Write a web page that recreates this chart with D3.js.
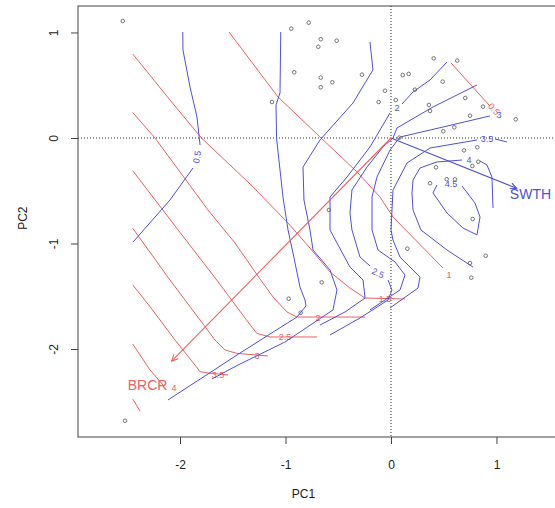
<!DOCTYPE html>
<meta charset="utf-8">
<style>
  body { margin: 0; background: #fff; }
  text { font-family: "Liberation Sans", Arial, sans-serif; }
</style>
<body>
<svg width="555" height="508" id="chart"></svg>
<script src="https://d3js.org/d3.v7.min.js"></script>
<script>
// site scores (PC1, PC2)
var sites = [
  [-2.543, 1.109], [-0.945, 1.036], [-0.780, 1.093], [-0.917, 0.623], [-1.128, 0.341],
  [-0.666, 0.936], [-0.689, 0.865], [-0.515, 0.922], [-0.666, 0.572], [-0.666, 0.481],
  [-0.556, 0.528], [-0.275, 0.600], [-0.057, 0.448], [-0.117, 0.341], [0.045, 0.360],
  [0.111, 0.597], [0.168, 0.607], [0.227, 0.458], [0.405, 0.755], [0.628, 0.733],
  [0.490, 0.534], [0.360, 0.313], [0.370, 0.256], [0.704, 0.379], [0.872, 0.297],
  [0.749, 0.211], [1.182, 0.177], [0.496, 0.064], [0.600, 0.101], [0.079, 0.003],
  [0.692, -0.117], [0.818, -0.088], [0.827, -0.225], [0.771, -0.265], [0.427, -0.278],
  [0.370, -0.429], [0.528, -0.391], [0.607, -0.392], [0.774, -0.768], [-0.588, -0.682],
  [-0.970, -1.523], [-0.856, -1.656], [-2.521, -2.680], [0.155, -1.049], [-0.657, -1.368],
  [0.749, -1.185], [0.898, -1.116], [0.761, -1.324]
];

// fitted species vectors
var species = ["SWTH", "BRCR"];
var vectors = [[1.191, -0.477], [-2.079, -2.114]];

// SWTH surface contours (blue): level, pieces
var swthLevels = ["0.5", "1", "1.5", "2", "2.5", "3", "3.5", "4", "4.5"];
var swthLines = [
  [[[-1.974, 1.005], [-1.972, 0.834], [-1.905, 0.483], [-1.839, 0.199], [-1.810, -0.066]],
   [[-1.877, -0.284], [-2.095, -0.588], [-2.445, -0.986]]],
  [[[-1.045, 1.005], [-1.052, 0.427], [-1.090, 0.313], [-1.085, 0], [-1.024, -0.559], [-0.976, -0.872],
    [-0.929, -1.090], [-0.863, -1.412], [-0.815, -1.536], [-0.806, -1.592], [-0.891, -1.697],
    [-1.147, -1.858], [-1.460, -2.057], [-1.735, -2.237], [-2.114, -2.483]]],
  [[[-0.199, 0.910], [-0.171, 0.645], [-0.360, 0.332], [-0.673, -0.019], [-0.834, -0.275], [-0.825, -0.588],
    [-0.768, -0.872], [-0.739, -1.062], [-0.578, -1.251], [-0.512, -1.441], [-0.550, -1.630],
    [-1.005, -1.934], [-1.431, -2.142], [-1.697, -2.284]]],
  [[[0.531, 0.720], [0.370, 0.550], [0.209, 0.436], [0.104, 0.322]],
   [[-0.009, 0.237], [-0.199, -0.085], [-0.417, -0.370], [-0.578, -0.559], [-0.578, -0.872], [-0.512, -0.995],
    [-0.389, -1.223], [-0.265, -1.346], [-0.246, -1.517], [-0.436, -1.649], [-0.673, -1.773]]],
  [[[0.815, 0.502], [0.398, 0.294], [0.057, 0.095], [0.019, 0], [-0.076, -0.085], [-0.227, -0.275],
    [-0.370, -0.493], [-0.389, -0.711], [-0.370, -0.872], [-0.294, -1.128], [-0.199, -1.213]],
   [[-0.028, -1.346], [0.009, -1.441], [-0.028, -1.536], [-0.294, -1.706], [-0.578, -1.867]]],
  [[[0.938, 0.209], [0.493, 0.104], [0.085, 0.009], [-0.009, -0.114], [-0.133, -0.370], [-0.180, -0.559],
    [-0.180, -0.872], [-0.123, -1.062], [0.038, -1.175], [0.133, -1.299], [0.085, -1.441], [-0.199, -1.630]]],
  [[[0.986, -0.009], [1.100, -0.038]],
   [[0.815, -0.019], [0.370, -0.095], [0.152, -0.237], [0.019, -0.493], [0, -0.872], [0.019, -0.967],
    [0.085, -1.128], [0.275, -1.318], [0.256, -1.422], [-0.009, -1.611]]],
  [[[0.844, -0.218], [0.910, -0.256], [0.957, -0.370], [0.967, -0.664]],
   [[0.673, -0.209], [0.436, -0.227], [0.275, -0.284], [0.209, -0.398], [0.199, -0.521], [0.209, -0.682],
    [0.284, -0.872], [0.531, -1.062], [0.777, -1.223]]],
  [[[0.673, -0.455], [0.796, -0.616], [0.844, -0.749], [0.815, -0.919], [0.682, -0.853], [0.531, -0.711],
    [0.398, -0.521], [0.436, -0.445]]]
];
// label position and angle for each SWTH level
var swthLabelPos = [[-1.839, -0.180, -80], null, null, [0.057, 0.284, 0], [-0.123, -1.280, 25],
  [1.024, 0.218, 0], [0.910, -0.009, 0], [0.739, -0.209, 0], [0.569, -0.436, 0]];

// BRCR surface contours (red)
var brcrLevels = ["0.5", "1", "1.5", "2", "2.5", "3", "3.5", "4", "4.5"];
var brcrLines = [
  [[0.569, 0.711], [0.938, 0.303]],
  [[-1.536, 1.005], [-1.071, 0.389], [-0.692, 0.028], [-0.322, -0.322], [-0.104, -0.559], [0.019, -0.749], [0.493, -1.232]],
  [[-2.448, 0.796], [-2.095, 0.360], [-1.794, -0.003], [-1.336, -0.436], [-0.976, -0.806], [-0.768, -1.043],
   [-0.578, -1.270], [-0.389, -1.422], [-0.246, -1.517], [0.133, -1.526]],
  [[-2.448, 0.240], [-2.237, 0], [-2.000, -0.322], [-1.735, -0.682], [-1.479, -0.995], [-1.242, -1.336],
   [-1.118, -1.507], [-0.986, -1.649], [-0.891, -1.697], [-0.246, -1.697]],
  [[-2.448, -0.310], [-2.047, -0.834], [-1.652, -1.346], [-1.384, -1.706], [-1.273, -1.851], [-1.147, -1.886], [-0.701, -1.886]],
  [[-2.448, -0.856], [-2.095, -1.346], [-1.810, -1.725], [-1.668, -1.915], [-1.573, -2.009], [-1.463, -2.041], [-1.166, -2.066]],
  [[-2.448, -1.393], [-2.284, -1.599], [-2.047, -1.915], [-1.858, -2.152], [-1.810, -2.215], [-1.735, -2.227], [-1.545, -2.246]],
  [[-2.448, -1.953], [-2.284, -2.199], [-2.161, -2.341]],
  [[-2.448, -2.474], [-2.379, -2.588]]
];
var brcrLabelPos = [[0.976, 0.275, 48], [0.550, -1.299, 0], [-0.057, -1.526, 0], [-0.692, -1.706, 0],
  [-1.005, -1.886, 0], [-1.270, -2.066, 0], [-1.640, -2.246, 0], [-2.057, -2.370, 0], null];

var xTicks = [-2, -1, 0, 1];
var yTicks = [-2, -1, 0, 1];

var svg = d3.select("svg"),
    margin = {top: 6, right: -11, bottom: 71, left: 78},
    width = 555 - margin.left - margin.right,
    height = 508 - margin.top - margin.bottom;

var x = d3.scaleLinear().domain([-2.967, 1.659]).range([margin.left, margin.left + width]);
var y = d3.scaleLinear().domain([-2.834, 1.251]).range([margin.top + height, margin.top]);

var blue = "#5050d8", red = "#ee6060";
var line = d3.line().x(function(d) { return x(d[0]); }).y(function(d) { return y(d[1]); });

// zero lines
svg.append("line").attr("x1", x(-2.967)).attr("x2", x(1.659)).attr("y1", y(0)).attr("y2", y(0))
    .attr("stroke", "#333").attr("stroke-dasharray", "1,2");
svg.append("line").attr("x1", x(0)).attr("x2", x(0)).attr("y1", y(1.251)).attr("y2", y(-2.834))
    .attr("stroke", "#333").attr("stroke-dasharray", "1,2");

// red surface
var gr = svg.append("g");
gr.selectAll("path").data(brcrLines).enter().append("path")
    .attr("d", line).attr("fill", "none").attr("stroke", red).attr("stroke-width", 1);
gr.selectAll("text").data(brcrLabelPos.map(function(p, i) { return p && {p: p, t: brcrLevels[i]}; }).filter(Boolean))
    .enter().append("text")
    .attr("transform", function(d) { return "translate(" + x(d.p[0]) + "," + y(d.p[1]) + ") rotate(" + d.p[2] + ")"; })
    .attr("text-anchor", "middle").attr("dy", "0.35em")
    .attr("font-size", 9).attr("fill", red)
    .text(function(d) { return d.t; });

// blue surface
var gb = svg.append("g");
swthLines.forEach(function(pieces) {
  gb.append("g").selectAll("path").data(pieces).enter().append("path")
      .attr("d", line).attr("fill", "none").attr("stroke", blue).attr("stroke-width", 1);
});
gb.selectAll("text").data(swthLabelPos.map(function(p, i) { return p && {p: p, t: swthLevels[i]}; }).filter(Boolean))
    .enter().append("text")
    .attr("transform", function(d) { return "translate(" + x(d.p[0]) + "," + y(d.p[1]) + ") rotate(" + d.p[2] + ")"; })
    .attr("text-anchor", "middle").attr("dy", "0.35em")
    .attr("font-size", 9).attr("fill", blue)
    .text(function(d) { return d.t; });

// sites
svg.append("g").selectAll("circle").data(sites).enter().append("circle")
    .attr("cx", function(d) { return x(d[0]); })
    .attr("cy", function(d) { return y(d[1]); })
    .attr("r", 1.8)
    .attr("fill", "none").attr("stroke", "#666").attr("stroke-width", 0.9);

// species arrows
var colors = [blue, red];
vectors.forEach(function(v, i) {
  var x0 = x(0), y0 = y(0), x1 = x(v[0]), y1 = y(v[1]);
  var a = Math.atan2(y1 - y0, x1 - x0), L = 7, w = 0.45;
  svg.append("line").attr("x1", x0).attr("y1", y0).attr("x2", x1).attr("y2", y1)
      .attr("stroke", colors[i]).attr("stroke-width", 1.1);
  svg.append("path")
      .attr("d", "M" + (x1 - L * Math.cos(a - w)) + "," + (y1 - L * Math.sin(a - w)) +
                 "L" + x1 + "," + y1 +
                 "L" + (x1 - L * Math.cos(a + w)) + "," + (y1 - L * Math.sin(a + w)))
      .attr("fill", "none").attr("stroke", colors[i]).attr("stroke-width", 1.1);
  svg.append("text")
      .attr("x", x(v[0] * 1.11)).attr("y", y(v[1] * 1.11))
      .attr("text-anchor", "middle").attr("dy", "0.35em")
      .attr("font-size", 14).attr("fill", colors[i])
      .text(species[i]);
});

// box
svg.append("rect").attr("x", margin.left).attr("y", margin.top)
    .attr("width", width).attr("height", height)
    .attr("fill", "none").attr("stroke", "#444").attr("stroke-width", 1);

// axes
var xAxis = svg.append("g").attr("transform", "translate(0," + (margin.top + height) + ")")
    .call(d3.axisBottom(x).tickValues(xTicks).tickSize(7).tickPadding(16).tickFormat(d3.format("d")));
var yAxis = svg.append("g").attr("transform", "translate(" + margin.left + ",0)")
    .call(d3.axisLeft(y).tickValues(yTicks).tickSize(7).tickPadding(16).tickFormat(d3.format("d")));
[xAxis, yAxis].forEach(function(g) {
  g.select(".domain").remove();
  g.selectAll("line").attr("stroke", "#444");
  g.selectAll("text").attr("font-size", 12).attr("fill", "#222")
      .attr("font-family", "Liberation Sans, Arial, sans-serif")
      .text(function(d) { return d < 0 ? "-" + Math.abs(d) : d; });
});
yAxis.selectAll(".tick text")
    .attr("transform", "rotate(-90)")
    .attr("x", 0).attr("y", -24).attr("dy", "0.35em")
    .attr("text-anchor", "middle");

svg.append("text").attr("x", x(-0.83)).attr("y", 498)
    .attr("text-anchor", "middle").attr("font-size", 12).attr("fill", "#222").text("PC1");
svg.append("text").attr("transform", "translate(27," + y(-0.76) + ") rotate(-90)")
    .attr("text-anchor", "middle").attr("font-size", 12).attr("fill", "#222").text("PC2");
</script>
</body>
